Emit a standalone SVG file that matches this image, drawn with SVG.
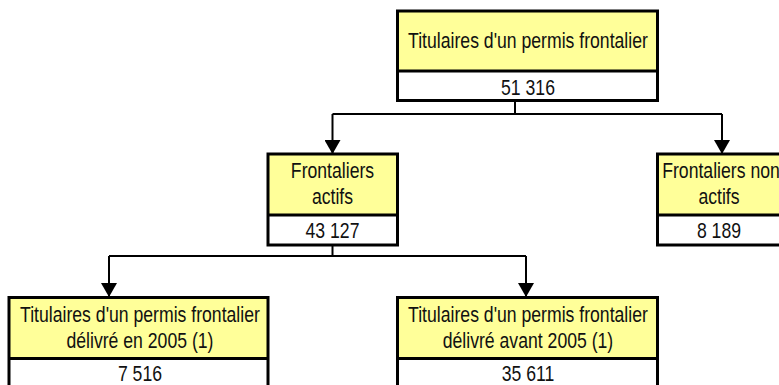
<svg xmlns="http://www.w3.org/2000/svg" width="779" height="385" viewBox="0 0 779 385">
<defs>
<style>
.y{fill:#FFFF99;stroke:none}
.w{fill:#FFFFFF;stroke:none}
.b{fill:none;stroke:#000;stroke-width:3}
.t{font-family:"Liberation Sans",Arial,sans-serif;font-size:21.5px;fill:#111;text-anchor:middle}
.c{fill:none;stroke:#000;stroke-width:2}
</style>
<marker id="ah" markerUnits="userSpaceOnUse" markerWidth="14" markerHeight="16" refX="13" refY="8" orient="auto" viewBox="0 0 14 16">
<path d="M0,0 L14,8 L0,16 Z" fill="#000"/>
</marker>
</defs>
<rect x="0" y="0" width="779" height="385" fill="#fff"/>
<g id="connectors">
<path class="c" d="M515 101 V114"/>
<path class="c" d="M332.5 114 H722"/>
<path class="c" d="M332.5 114 V153" marker-end="url(#ah)"/>
<path class="c" d="M722 114 V153" marker-end="url(#ah)"/>
<path class="c" d="M332.5 245 V256"/>
<path class="c" d="M109 256 H526"/>
<path class="c" d="M109 256 V296" marker-end="url(#ah)"/>
<path class="c" d="M526 256 V296" marker-end="url(#ah)"/>
</g>
<g id="n-top">
<rect class="y" x="397.5" y="11" width="260" height="60"/>
<rect class="w" x="397.5" y="71" width="260" height="29"/>
<rect class="b" x="397.5" y="11" width="260" height="89.5"/>
<line class="b" x1="397.5" y1="71" x2="657.5" y2="71"/>
<g transform="scale(0.82 1)">
<text class="t" x="643.9" y="48">Titulaires d'un permis frontalier</text>
<text class="t" x="643.9" y="95">51 316</text>
</g>
</g>
<g id="n-actifs">
<rect class="y" x="268" y="154" width="129.5" height="61"/>
<rect class="w" x="268" y="215" width="129.5" height="30"/>
<rect class="b" x="268" y="154" width="129.5" height="91"/>
<line class="b" x1="268" y1="215" x2="397.5" y2="215"/>
<g transform="scale(0.82 1)">
<text class="t" x="405.5" y="178">Frontaliers</text>
<text class="t" x="405.5" y="204">actifs</text>
<text class="t" x="405.5" y="238">43 127</text>
</g>
</g>
<g id="n-nonactifs">
<rect class="y" x="657.5" y="154" width="130" height="61"/>
<rect class="w" x="657.5" y="215" width="130" height="30"/>
<rect class="b" x="657.5" y="154" width="130" height="91"/>
<line class="b" x1="657.5" y1="215" x2="787.5" y2="215"/>
<g transform="scale(0.82 1)">
<text class="t" x="879.3" y="178">Frontaliers non</text>
<text class="t" x="876.8" y="204">actifs</text>
<text class="t" x="876.8" y="238">8 189</text>
</g>
</g>
<g id="n-2005">
<rect class="y" x="9" y="297.5" width="259" height="61"/>
<rect class="w" x="9" y="358.5" width="259" height="32"/>
<rect class="b" x="9" y="297.5" width="259" height="95"/>
<line class="b" x1="9" y1="358.5" x2="268" y2="358.5"/>
<g transform="scale(0.82 1)">
<text class="t" x="170.7" y="322">Titulaires d'un permis frontalier</text>
<text class="t" x="170.7" y="348">délivré en 2005 (1)</text>
<text class="t" x="170.7" y="381">7 516</text>
</g>
</g>
<g id="n-avant2005">
<rect class="y" x="397.5" y="297.5" width="260" height="61"/>
<rect class="w" x="397.5" y="358.5" width="260" height="32"/>
<rect class="b" x="397.5" y="297.5" width="260" height="95"/>
<line class="b" x1="397.5" y1="358.5" x2="657.5" y2="358.5"/>
<g transform="scale(0.82 1)">
<text class="t" x="643.9" y="322">Titulaires d'un permis frontalier</text>
<text class="t" x="643.9" y="348">délivré avant 2005 (1)</text>
<text class="t" x="643.9" y="381">35 611</text>
</g>
</g>
</svg>
